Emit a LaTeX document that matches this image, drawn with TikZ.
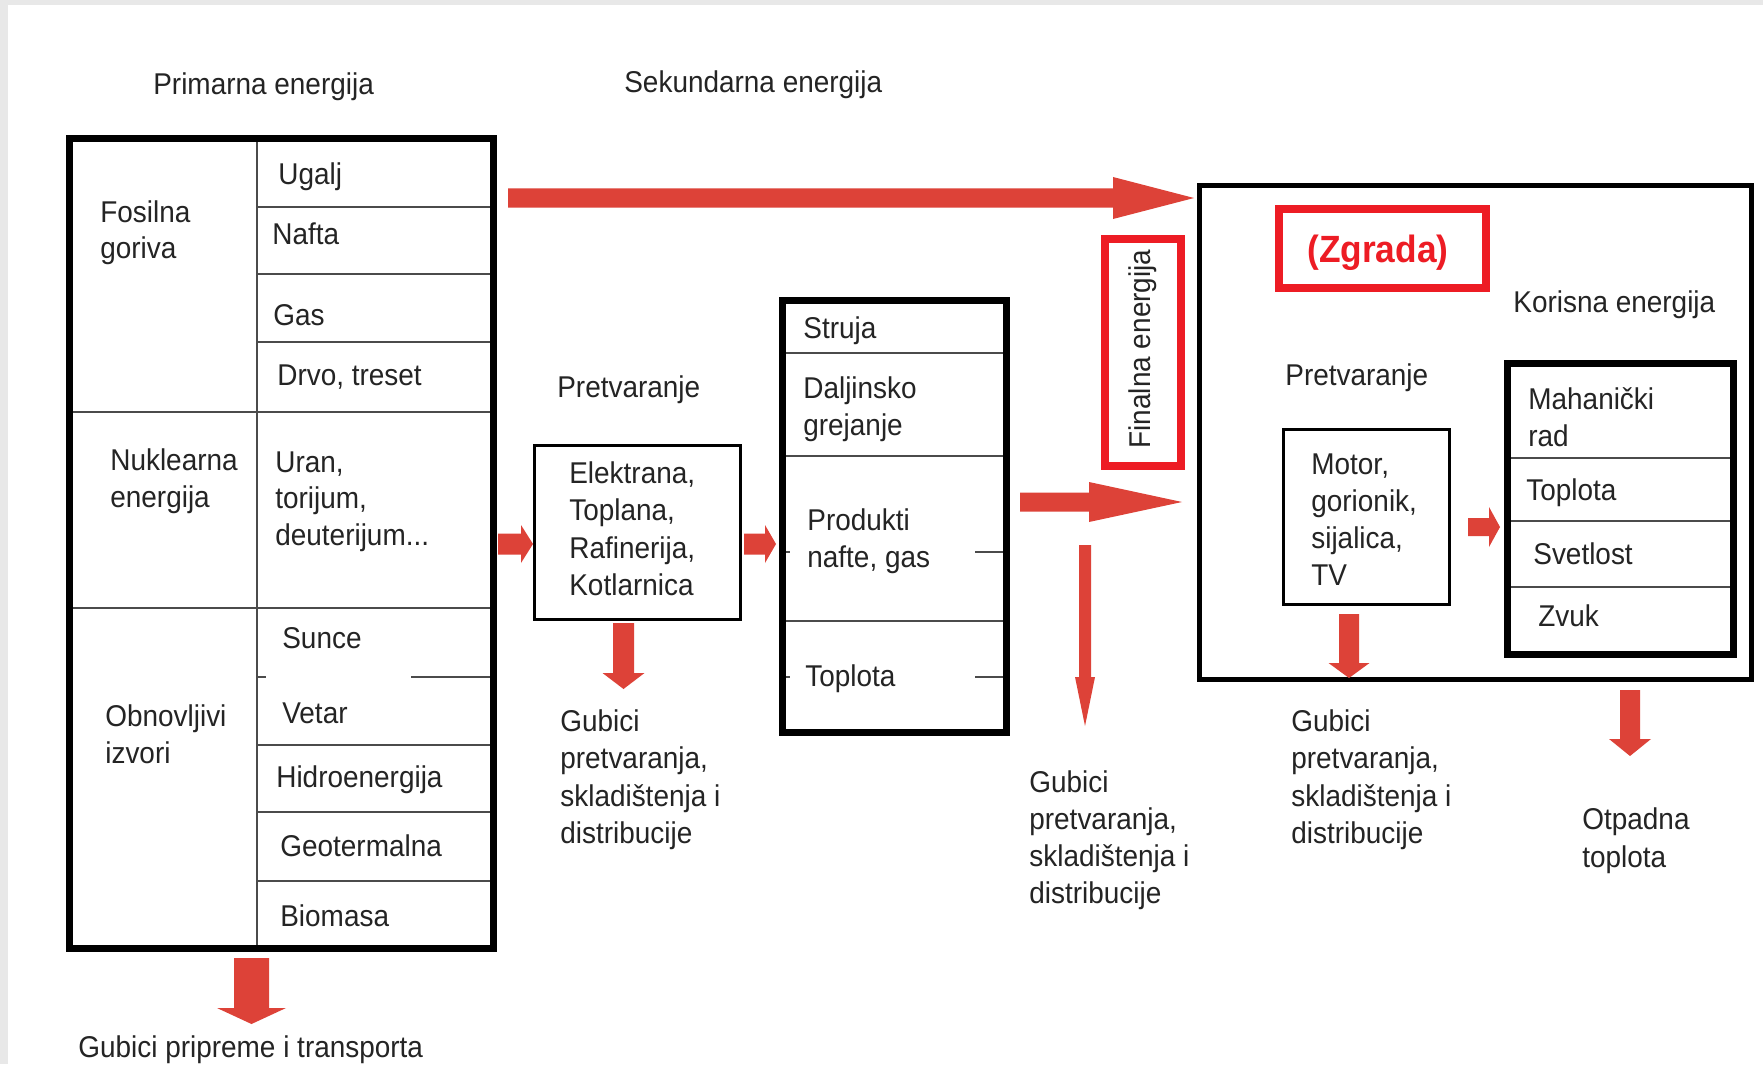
\documentclass[tikz,border=0pt]{standalone}
\usepackage{fontspec}
\setmainfont{Liberation Sans}[FakeStretch=0.93]
\definecolor{arrowred}{RGB}{221,66,56}
\definecolor{framered}{RGB}{237,28,36}
\definecolor{txtgray}{RGB}{36,36,36}
\definecolor{linegray}{RGB}{75,75,75}
\definecolor{bggray}{RGB}{232,232,232}
\newcommand\tdots{...}
\newcommand\txtlines[5]{%
  \foreach \ln [count=\k from 0] in {#5}{\node[txt] (#1\k) at (#2,#3+\k*#4) {\ln};}}
\newcommand\arrR[6]{%
  \fill[arrowred] (#1,#4-#5) -- (#2,#4-#5) -- (#2,#4-#6) -- (#3,#4) -- (#2,#4+#6) -- (#2,#4+#5) -- (#1,#4+#5) -- cycle;}
\newcommand\arrD[6]{%
  \fill[arrowred] (#1-#5,#2) -- (#1-#5,#3) -- (#1-#6,#3) -- (#1,#4) -- (#1+#6,#3) -- (#1+#5,#3) -- (#1+#5,#2) -- cycle;}
\begin{document}
\begin{tikzpicture}[x=0.02cm,y=-0.02cm,
  px/.style={line width=#1*0.5690551pt},
  txt/.style={anchor=base west, inner sep=0pt, text=txtgray, font=\fontsize{17.1pt}{20pt}\selectfont},
  inner/.style={draw=linegray, px=2},
  redframe/.style={draw=framered, px=8}]
\useasboundingbox (0,0) rectangle (1763,1064);
\fill[white] (0,0) rectangle (1763,1064);
\fill[bggray] (0,0) rectangle (1763,5);
\fill[bggray] (0,0) rectangle (8,1064);

% headers
\node[txt] (prim) at (153,95) {Primarna energija};
\node[txt] (sek) at (624,93) {Sekundarna energija};

% ---------- primary table ----------
\draw[inner] (257,140) -- (257,946);
\draw[inner] (257,207) -- (491,207);
\draw[inner] (257,274) -- (491,274);
\draw[inner] (257,342) -- (491,342);
\draw[inner] (72,412) -- (491,412);
\draw[inner] (72,608) -- (491,608);
\draw[inner] (257,677) -- (266,677);
\draw[inner] (411,677) -- (491,677);
\draw[inner] (257,745) -- (491,745);
\draw[inner] (257,812) -- (491,812);
\draw[inner] (257,881) -- (491,881);
\draw[px=7] (69.5,138.5) rectangle (493.5,948.5);

\txtlines{fos}{100}{222}{36}{Fosilna,goriva}
\node[txt] (ugalj) at (278,185) {Ugalj};
\node[txt] (nafta) at (272,244) {Nafta};
\node[txt] (gas) at (273,325) {Gas};
\node[txt] (drvo) at (277,385) {Drvo, treset};
\txtlines{nuk}{110}{470}{37}{Nuklearna,energija}
\txtlines{uran}{275}{472}{36.5}{{Uran,},{torijum,},{deuterijum\tdots}}
\node[txt] (sunce) at (282,648) {Sunce};
\node[txt] (vetar) at (282,723) {Vetar};
\txtlines{obn}{105}{726}{37}{Obnovljivi,izvori}
\node[txt] (hidro) at (276,787) {Hidroenergija};
\node[txt] (geo) at (280,856) {Geotermalna};
\node[txt] (bio) at (280,926) {Biomasa};
\node[txt] (gubprip) at (78,1057) {Gubici pripreme i transporta};

% ---------- conversion 1 ----------
\node[txt] (pretv1) at (557,397) {Pretvaranje};
\draw[px=3] (534.5,445.5) rectangle (740.5,619.5);
\txtlines{elek}{569}{483}{37.5}{{Elektrana,},{Toplana,},{Rafinerija,},Kotlarnica}
\txtlines{gub1}{560}{731}{37.5}{Gubici,{pretvaranja,},skladištenja i,distribucije}

% ---------- secondary energy ----------
\draw[inner] (786,353) -- (1003,353);
\draw[inner] (786,456) -- (1003,456);
\draw[inner] (786,621) -- (1003,621);
\draw[inner] (975,552) -- (1003,552);
\draw[inner] (975,677) -- (1003,677);
\draw[inner] (786,552) -- (790,552);
\draw[inner] (786,677) -- (790,677);
\draw[px=7] (782.5,300.5) rectangle (1006.5,732.5);
\node[txt] (struja) at (803,338) {Struja};
\txtlines{dalj}{803}{398}{37}{Daljinsko,grejanje}
\txtlines{prod}{807}{530}{37}{Produkti,{nafte, gas}}
\node[txt] (topl1) at (805,686) {Toplota};

% ---------- final energy ----------
\draw[redframe] (1105,239) rectangle (1181,466);
\node[txt, anchor=base, rotate=90] (final) at (1150,349) {Finalna energija};
\txtlines{gub2}{1029}{792}{37}{Gubici,{pretvaranja,},skladištenja i,distribucije}

% ---------- building ----------
\draw[px=5] (1199.5,185.5) rectangle (1751.5,679.5);
\draw[redframe] (1279,209) rectangle (1486,288);
\node[txt, text=framered, font=\bfseries\fontsize{21.6pt}{25pt}\selectfont] (zgrada) at (1307,262) {(Zgrada)};
\node[txt] (korisna) at (1513,312) {Korisna energija};
\node[txt] (pretv2) at (1285,385) {Pretvaranje};
\draw[px=3] (1283.5,429.5) rectangle (1449.5,604.5);
\txtlines{motor}{1311}{474}{37}{{Motor,},{gorionik,},{sijalica,},TV}
\draw[inner] (1511,458) -- (1730,458);
\draw[inner] (1511,521) -- (1730,521);
\draw[inner] (1511,587) -- (1730,587);
\draw[px=7] (1507.5,363.5) rectangle (1733.5,654.5);
\txtlines{meh}{1528}{409}{37}{Mahanički,rad}
\node[txt] (topl2) at (1526,500) {Toplota};
\node[txt] (svet) at (1533,564) {Svetlost};
\node[txt] (zvuk) at (1538,626) {Zvuk};
\txtlines{gub3}{1291}{731}{37.5}{Gubici,{pretvaranja,},skladištenja i,distribucije}
\txtlines{otp}{1582}{829}{38}{Otpadna,toplota}

% ---------- arrows ----------
\arrR{508}{1113}{1194}{198}{9.5}{21}
\arrR{498}{521}{533}{544}{10.5}{19}
\arrR{744}{765}{776}{544}{10.5}{19}
\arrR{1020}{1089}{1182}{502}{9.5}{20}
\arrR{1468}{1489}{1500}{527}{9}{20}
\arrD{623.5}{623}{673}{689}{10.5}{21}
\arrD{1085}{545}{677}{726}{6}{10}
\arrD{1349}{614}{663}{678}{10}{20.5}
\arrD{1630}{690}{739}{756}{10}{21}
\arrD{251.5}{958}{1008}{1024}{17.5}{34.5}
\end{tikzpicture}
\end{document}
